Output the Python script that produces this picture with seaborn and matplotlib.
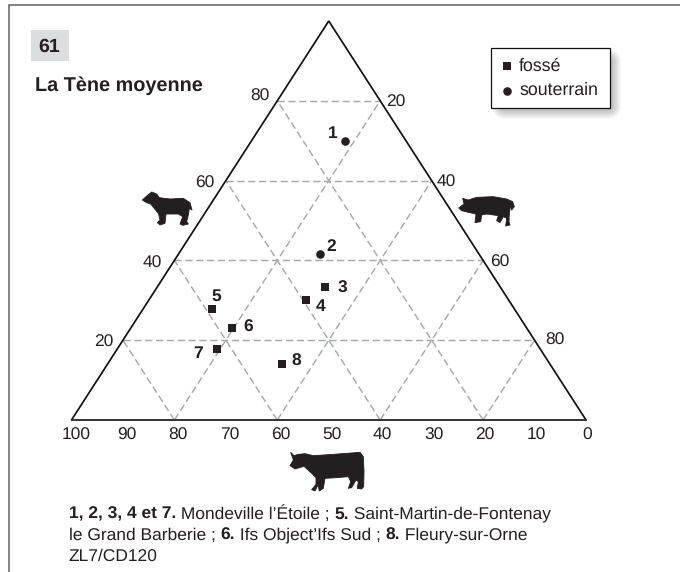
import numpy as np
import pandas as pd
import matplotlib
matplotlib.use("Agg")
import matplotlib.pyplot as plt
from matplotlib.patches import Rectangle, Polygon, FancyBboxPatch
from matplotlib.transforms import Affine2D
import seaborn as sns

# ternary values (%)
numbers = ["1", "2", "3", "4", "5", "6", "7", "8"]
sheep = [69.9, 41.7, 33.4, 30.0, 27.8, 23.0, 17.7, 14.1]
pig = [18.2, 27.4, 32.5, 30.5, 13.4, 19.7, 19.5, 33.8]
cattle = [11.9, 30.9, 34.1, 39.5, 58.8, 57.3, 62.8, 52.1]
context = ["souterrain", "souterrain", "fossé", "fossé", "fossé", "fossé", "fossé", "fossé"]
grid_values = [20, 40, 60, 80]
base_ticks = [100, 90, 80, 70, 60, 50, 40, 30, 20, 10, 0]
left_ticks = [80, 60, 40, 20]
right_ticks = [20, 40, 60, 80]

# silhouettes, traced by hand (pixels of the zoomed crops)
sheep_shape = [(427,600),(440,588),(455,576),(470,582),(478,593),(510,597),(550,595),(570,608),(576,630),(568,625),
               (565,645),(560,665),(565,672),(548,676),(540,672),(548,650),(535,642),(510,642),(498,642),(495,670),
               (480,675),(472,668),(480,660),(476,642),(465,628),(452,612),(440,608)]
pig_shape = [(356,624),(372,612),(368,595),(385,600),(410,592),(460,590),(500,597),(518,605),(523,620),(515,630),
             (512,615),(508,640),(507,665),(510,675),(497,678),(500,655),(490,650),(480,668),(470,662),(475,647),
             (440,642),(425,645),(422,665),(405,668),(408,642),(385,637),(365,632)]
cow_shape = [(32,22),(42,32),(55,28),(75,26),(100,32),(160,28),(240,22),(250,35),(252,80),(251,125),(245,132),
             (232,130),(235,110),(228,105),(215,128),(205,130),(212,110),(205,95),(170,98),(135,100),(130,130),
             (118,138),(114,120),(105,138),(95,134),(108,118),(108,98),(95,85),(72,64),(45,72),(30,62),(40,45)]

sns.set_theme(style="white")
plt.rcParams["font.family"] = ["Liberation Sans", "DejaVu Sans"]
plt.rcParams["lines.scale_dashes"] = False
plt.rcParams["text.hinting"] = "no_hinting"

W, H = 680, 572
INK = "#231f20"
fig = plt.figure(figsize=(W / 100, H / 100), dpi=100)
fig.patch.set_facecolor("white")
px = Affine2D().scale(1 / W, -1 / H).translate(0, 1) + fig.transFigure

# axes covers exactly the triangle box
ax = fig.add_axes([71.5 / W, (H - 420) / H, 514.5 / W, 399 / H])
ax.set_xlim(0, 100)
ax.set_ylim(0, 100)
ax.axis("off")

def tern_x(s, p):
    return np.asarray(p) + np.asarray(s) / 2

# grid
for g in grid_values:
    ax.plot([g / 2, 100 - g / 2], [g, g], color="#a7a9ac", lw=1.05, dashes=(5.2, 2.6), clip_on=False)
    ax.plot([g, g + (100 - g) / 2], [0, 100 - g], color="#a7a9ac", lw=1.05, dashes=(5.2, 2.6), clip_on=False)
    ax.plot([g, g / 2], [0, g], color="#a7a9ac", lw=1.05, dashes=(5.2, 2.6), clip_on=False)

# triangle
ax.plot([0, 50, 100], [0, 100, 0], color="#111111", lw=1.25, clip_on=False, solid_joinstyle="miter")
ax.plot([0, 100], [0, 0], color="#333333", lw=1.4, clip_on=False)

df = pd.DataFrame({"n": numbers, "sheep": sheep, "pig": pig, "cattle": cattle, "type": context})
df["x"] = tern_x(df["sheep"], df["pig"])
df["y"] = df["sheep"]

sns.scatterplot(data=df[df["type"] == "fossé"], x="x", y="y", marker="s", s=29, color=INK, linewidth=0,
                label="fossé", ax=ax, clip_on=False, zorder=5)
sns.scatterplot(data=df[df["type"] == "souterrain"], x="x", y="y", marker="o", s=38, color=INK, linewidth=0,
                label="souterrain", ax=ax, clip_on=False, zorder=5)

# frame of the page
fig.add_artist(plt.Line2D([8.7, 8.7], [4.7, 572], color="#6d6e71", lw=1.2, transform=px))
fig.add_artist(plt.Line2D([8.7, 680], [4.7, 4.7], color="#6d6e71", lw=1.2, transform=px))

# number box and title
fig.add_artist(Rectangle((31, 30), 38, 31, facecolor="#dcddde", edgecolor="none", transform=px))
fig.text(49.5, 46.5, "61", transform=px, ha="center", va="center", fontsize=14, fontweight="bold", color=INK)
fig.text(35, 91, "La Tène moyenne", transform=px, ha="left", va="baseline", fontsize=14.35, fontweight="bold", color=INK)

# axis labels
for t, lx, ly in zip(left_ticks, [260, 205, 152.3, 103.3], [96, 183, 263, 342]):
    fig.text(lx, ly, str(t), transform=px, ha="center", va="center", fontsize=12.5, color=INK)
for t, lx, ly in zip(right_ticks, [396, 446.7, 499.3, 555.3], [102.5, 182.5, 262.5, 340.5]):
    fig.text(lx, ly, str(t), transform=px, ha="center", va="center", fontsize=12.5, color=INK)
for t in base_ticks:
    fig.text(587 - 5.11 * t, 435.5, str(t), transform=px, ha="center", va="center", fontsize=12.5, color=INK)

# point labels
label_pos = [(332.7, 134), (331.7, 247), (342, 288), (320.3, 307), (216, 296.5), (248.3, 327), (198.3, 354), (296.7, 361)]
for n, (lx, ly) in zip(numbers, label_pos):
    fig.text(lx, ly, n, transform=px, ha="center", va="center", fontsize=12.5, fontweight="bold", color=INK)

# legend box with soft shadow
for i in range(14):
    grow = 9 - i
    fig.add_artist(FancyBboxPatch((497 - grow + 4, 54 - grow + 4), 119 + 2 * grow - 8, 60 + 2 * grow - 8,
                                  boxstyle="round,pad=0,rounding_size=%.1f" % max(grow + 5, 2), facecolor="black",
                                  edgecolor="none", alpha=0.028, transform=px, zorder=1))
fig.add_artist(Rectangle((491.3, 48.3), 119, 60, facecolor="white", edgecolor="#111111", lw=0.9, transform=px, zorder=2))
ax.get_legend().remove()
handles, labels = ax.get_legend_handles_labels()
leg = fig.legend(handles, labels, loc="upper left", bbox_to_anchor=(504, 58), bbox_transform=px, borderaxespad=0,
                 frameon=False, fontsize=12.75, labelcolor=INK, handletextpad=0.5, labelspacing=0.42, borderpad=0,
                 handlelength=0.35)
leg.set_zorder(3)

# animals
to_px = lambda shape, ox, oy: [(ox + a / 3, oy + b / 3) for a, b in shape]
for shape, ox, oy in [(sheep_shape, 0, 0), (pig_shape, 340, 0), (cow_shape, 280, 445)]:
    fig.add_artist(Polygon(to_px(shape, ox, oy), closed=True, facecolor=INK, edgecolor=INK, lw=0.6,
                           joinstyle="round", transform=px))

# caption, bold and plain runs
caption = [
    [("1, 2, 3, 4 et 7.", True), (" Mondeville l’Étoile ; ", False), ("5.", True), (" Saint-Martin-de-Fontenay", False)],
    [("le Grand Barberie ; ", False), ("6.", True), (" Ifs Object’Ifs Sud ; ", False), ("8.", True), (" Fleury-sur-Orne", False)],
    [("ZL7/CD120", False)],
]
rend = fig.canvas.get_renderer()
for line, base in zip(caption, [518.5, 539.5, 560.5]):
    cx = 68.7
    for run, bold in line:
        t = fig.text(cx, base, run.replace(" ", "\u00a0"), transform=px, ha="left", va="baseline", fontsize=12.5,
                     fontweight="bold" if bold else "normal", color=INK)
        cx += t.get_window_extent(rend).width

fig.savefig("out.png", dpi=100)
